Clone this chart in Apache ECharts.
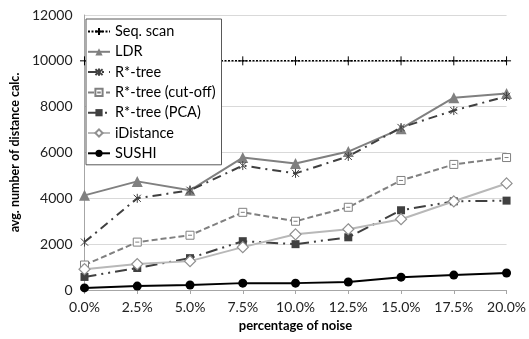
<!DOCTYPE html>
<html>
<head>
<meta charset="utf-8">
<script src="https://cdn.jsdelivr.net/npm/echarts@6/dist/echarts.min.js"></script>
<style>
  html, body { margin: 0; padding: 0; background: #fff; }
  #chart { width: 529px; height: 339px; }
</style>
</head>
<body>
<div id="chart"></div>
<script>
// Noise levels on the x axis
const noiseLevels = ['0.0%', '2.5%', '5.0%', '7.5%', '10.0%', '12.5%', '15.0%', '17.5%', '20.0%'];

// Average number of distance calculations per method
const seqScan      = [10000, 10000, 10000, 10000, 10000, 10000, 10000, 10000, 10000];
const ldr          = [4130, 4740, 4350, 5780, 5520, 6040, 7040, 8390, 8570];
const rStarTree    = [2090, 4000, 4350, 5430, 5090, 5830, 7090, 7830, 8450];
const rStarCutoff  = [1090, 2090, 2390, 3390, 3000, 3610, 4780, 5480, 5780];
const rStarPca     = [570, 960, 1390, 2130, 2000, 2300, 3480, 3870, 3900];
const iDistance    = [910, 1130, 1260, 1870, 2430, 2650, 3090, 3870, 4650];
const sushi        = [90, 170, 220, 300, 300, 350, 560, 650, 740];

// Y axis range
const yMin = 0, yMax = 12000, yStep = 2000;

const FONT = 'Lato';

const plusPath = 'path://M0,5 L10,5 M5,0 L5,10';
const starPath = 'path://M1,1 L9,9 M9,1 L1,9 M5,0 L5,10';
const boxMinusPath = 'path://M0,0 L10,0 L10,10 L0,10 Z M2.5,5 L7.5,5';

function lineSeries(name, data, opts) {
  return Object.assign({
    name: name,
    type: 'line',
    data: data,
    showSymbol: true,
    symbolKeepAspect: true,
    animation: false,
    z: 3
  }, opts);
}

const series = [
  lineSeries('Seq. scan', seqScan, {
    symbol: plusPath, symbolSize: 9,
    itemStyle: { color: '#000', borderColor: '#000', borderWidth: 1 },
    lineStyle: { color: '#000', width: 1.5, type: [2, 1.5] }
  }),
  lineSeries('LDR', ldr, {
    symbol: 'triangle', symbolSize: 11,
    itemStyle: { color: '#808080' },
    lineStyle: { color: '#808080', width: 2 }
  }),
  lineSeries('R*-tree', rStarTree, {
    symbol: starPath, symbolSize: 9,
    itemStyle: { color: '#404040', borderColor: '#404040', borderWidth: 1 },
    lineStyle: { color: '#404040', width: 2, type: [9, 5, 2, 5] }
  }),
  lineSeries('R*-tree (cut-off)', rStarCutoff, {
    symbol: boxMinusPath, symbolSize: 8,
    itemStyle: { color: '#fff', borderColor: '#808080', borderWidth: 1 },
    lineStyle: { color: '#808080', width: 2, type: [6, 3] }
  }),
  lineSeries('R*-tree (PCA)', rStarPca, {
    symbol: 'rect', symbolSize: 8,
    itemStyle: { color: '#404040' },
    lineStyle: { color: '#404040', width: 2, type: [12, 5, 2, 5, 2, 5] }
  }),
  lineSeries('iDistance', iDistance, {
    symbol: 'diamond', symbolSize: 11,
    itemStyle: { color: '#fff', borderColor: '#909090', borderWidth: 1.2 },
    lineStyle: { color: '#b8b8b8', width: 2 }
  }),
  lineSeries('SUSHI', sushi, {
    symbol: 'circle', symbolSize: 9,
    itemStyle: { color: '#000' },
    lineStyle: { color: '#000', width: 2 }
  })
];

const chart = echarts.init(document.getElementById('chart'), null, { renderer: 'canvas' });
chart.setOption({
  animation: false,
  backgroundColor: '#fff',
  textStyle: { fontFamily: FONT },
  grid: { left: 80, right: 20, top: 15, bottom: 49, containLabel: false },
  legend: {
    orient: 'vertical',
    left: 86, top: 19,
    backgroundColor: '#fff',
    borderColor: '#595959', borderWidth: 1,
    padding: [5, 6, 4, 1],
    itemWidth: 22, itemHeight: 9, itemGap: 5.3,
    textStyle: { fontFamily: FONT, fontSize: 14.5, color: '#000', lineHeight: 14.4 },
    data: series.map(s => s.name)
  },
  xAxis: {
    type: 'category',
    data: noiseLevels,
    boundaryGap: false,
    name: 'percentage of noise',
    nameLocation: 'middle',
    nameGap: 28,
    nameTextStyle: { fontFamily: FONT, fontSize: 13, fontWeight: 'bold', color: '#000' },
    axisLine: { lineStyle: { color: '#a6a6a6', width: 1 } },
    axisTick: { show: true, length: 4, lineStyle: { color: '#a6a6a6' } },
    axisLabel: { fontFamily: FONT, fontSize: 14, color: '#222', margin: 10 },
    splitLine: { show: false }
  },
  yAxis: {
    type: 'value',
    min: yMin, max: yMax, interval: yStep,
    name: 'avg. number of distance calc.',
    nameLocation: 'middle',
    nameGap: 57,
    nameTextStyle: { fontFamily: FONT, fontSize: 12.5, fontWeight: 'bold', color: '#000' },
    axisLine: { show: true, lineStyle: { color: '#a6a6a6', width: 1 } },
    axisTick: { show: false },
    axisLabel: { fontFamily: FONT, fontSize: 14, color: '#222', margin: 12, formatter: v => String(v) },
    splitLine: { show: true, lineStyle: { color: '#d9d9d9', width: 1 } }
  },
  series: series
});
</script>
</body>
</html>
